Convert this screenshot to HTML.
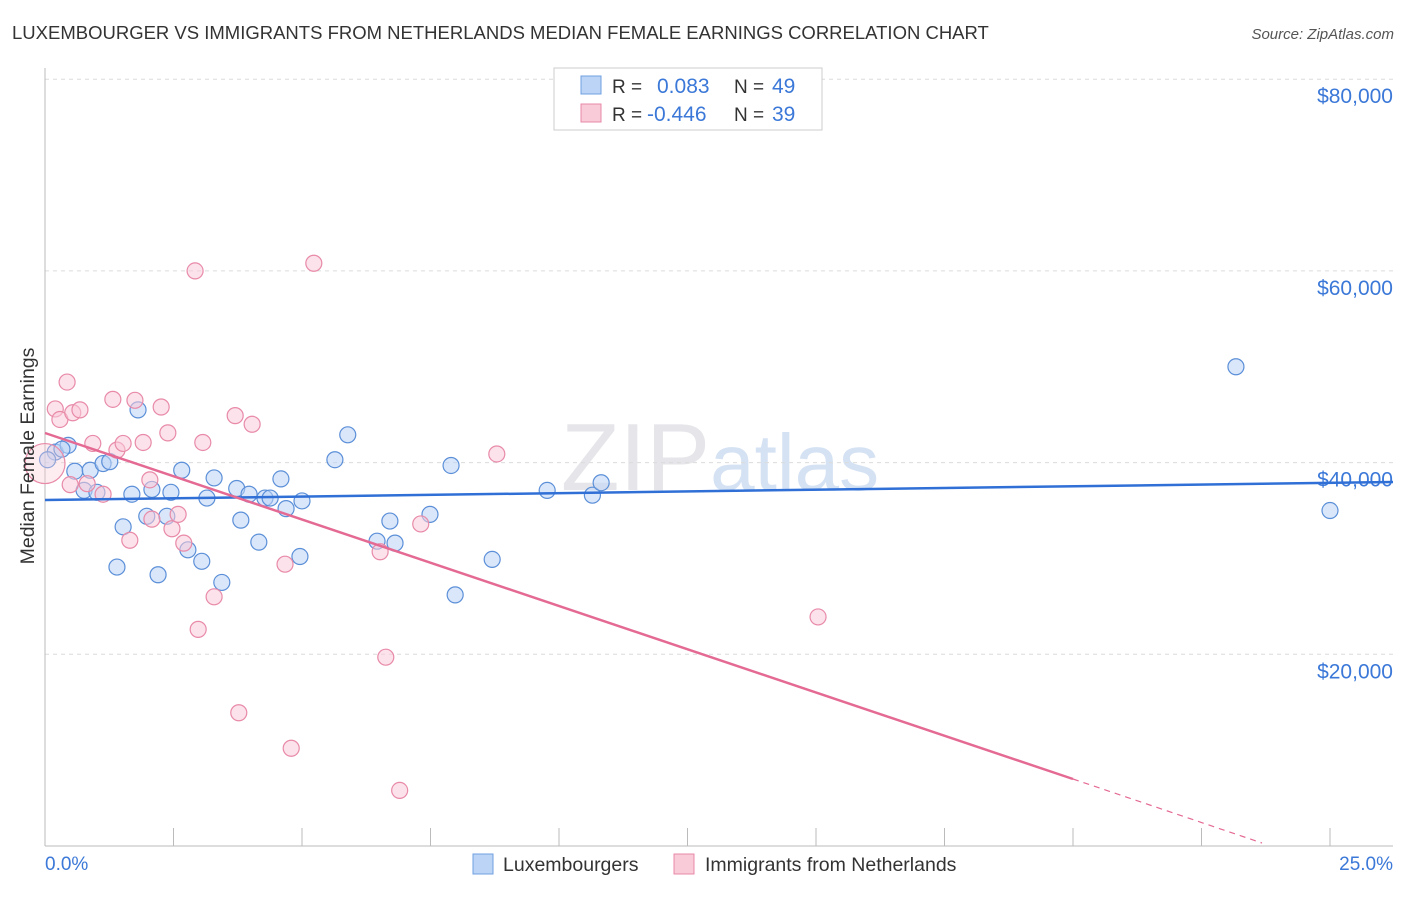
<!DOCTYPE html>
<html><head><meta charset="utf-8"><style>
body{margin:0;background:#fff;font-family:"Liberation Sans",sans-serif}
svg text{font-family:"Liberation Sans",sans-serif}
</style></head><body>
<svg id="chart" width="1406" height="892" xmlns="http://www.w3.org/2000/svg">
<text x="12" y="39" font-size="18.5" fill="#333">LUXEMBOURGER VS IMMIGRANTS FROM NETHERLANDS MEDIAN FEMALE EARNINGS CORRELATION CHART</text>
<text x="1394" y="39" font-size="15" fill="#555" text-anchor="end" font-style="italic">Source: ZipAtlas.com</text>
<text x="720" y="490" font-size="96" fill="#e6e6ea" text-anchor="middle" font-family="Liberation Serif">ZIP<tspan fill="#d5e2f3" font-family="Liberation Sans" font-size="80">atlas</tspan></text>
<g id="grid"></g>
<g id="axes"></g>
<g id="marks"></g>
<text transform="translate(34,456) rotate(-90)" font-size="19.5" fill="#333" text-anchor="middle">Median Female Earnings</text>
<text x="45" y="870" font-size="19" fill="#3b78d8">0.0%</text>
<text x="1393" y="870" font-size="19" fill="#3b78d8" text-anchor="end">25.0%</text>
<g>
<rect x="554" y="68" width="268" height="62" fill="#fff" stroke="#ccc"/>
<rect x="581" y="76" width="20" height="18" fill="#bcd4f5" stroke="#6f9fe0"/>
<rect x="581" y="104" width="20" height="18" fill="#f9cad8" stroke="#e88aa8"/>
<text x="612" y="93" font-size="19" fill="#333">R = </text>
<text x="657" y="93" font-size="21" fill="#3b78d8">0.083</text>
<text x="734" y="93" font-size="19" fill="#333">N =</text>
<text x="772" y="93" font-size="21" fill="#3b78d8">49</text>
<text x="612" y="121" font-size="19" fill="#333">R = </text>
<text x="647" y="121" font-size="21" fill="#3b78d8">-0.446</text>
<text x="734" y="121" font-size="19" fill="#333">N =</text>
<text x="772" y="121" font-size="21" fill="#3b78d8">39</text>
</g>
<g>
<rect x="473" y="854" width="20" height="20" fill="#bcd4f5" stroke="#6f9fe0"/>
<text x="503" y="871" font-size="19.5" fill="#333">Luxembourgers</text>
<rect x="674" y="854" width="20" height="20" fill="#f9cad8" stroke="#e88aa8"/>
<text x="705" y="871" font-size="19.5" fill="#333">Immigrants from Netherlands</text>
</g>
</svg>
<script>
const yTicks=[20000,40000,60000,80000];
const yTickLabels=["$20,000","$40,000","$60,000","$80,000"];
const xTicks=[0,2.5,5,7.5,10,12.5,15,17.5,20,22.5,25];
const blueX=[0.2,0.45,0.33,0.58,0.88,0.76,1.01,1.13,1.26,1.81,1.52,1.4,1.69,2.08,1.98,2.2,2.37,2.45,2.66,2.78,3.05,3.15,3.29,3.44,3.73,3.81,3.97,4.16,4.28,4.38,4.59,4.69,4.96,5.0,5.64,5.89,6.46,6.71,6.81,7.49,7.9,7.98,8.7,9.77,10.65,10.82,23.17,25.0,0.05];
const blueY=[41100,41800,41400,39100,39200,37100,36900,39900,40100,45500,33300,29100,36700,37200,34400,28300,34400,36900,39200,30900,29700,36300,38400,27500,37300,34000,36700,31700,36300,36300,38300,35200,30200,36000,40300,42900,31800,33900,31600,34600,39700,26200,29900,37100,36600,37900,50000,35000,40300];
const pinkX=[0.0,0.2,0.29,0.43,0.54,0.68,0.82,0.93,1.13,1.4,1.32,1.52,1.65,1.75,1.91,2.04,2.08,2.26,2.39,2.47,2.59,2.7,2.92,2.98,3.07,3.29,3.7,3.77,4.03,4.67,4.79,5.23,6.52,6.63,6.9,7.31,8.79,15.04,0.49];
const pinkY=[39900,45600,44500,48400,45200,45500,37800,42000,36700,41300,46600,42000,31900,46500,42100,38200,34100,45800,43100,33100,34600,31600,60000,22600,42100,26000,44900,13900,44000,29400,10200,60800,30700,19700,5800,33600,40900,23900,37700];
const X=v=>45+v*51.4, Y=v=>846-v*191.7/20000;
const ns="http://www.w3.org/2000/svg";
function mk(t,a,p){const e=document.createElementNS(ns,t);for(const k in a)e.setAttribute(k,a[k]);p.appendChild(e);return e;}
const grid=document.getElementById('grid'),axes=document.getElementById('axes'),marks=document.getElementById('marks');
yTicks.forEach((v,i)=>{
 const l=mk('line',{x1:45,x2:1393,y1:Y(v),y2:Y(v),stroke:'#dcdcdc','stroke-dasharray':'4,4'},grid);
 
 
 const t=mk('text',{x:1393,y:Y(v)+24,'font-size':21,fill:'#3b78d8','text-anchor':'end'},axes);
 t.textContent=yTickLabels[i];
 
 
});
const xa=mk('line',{x1:45,x2:1393,y1:846,y2:846,stroke:'#bbb'},axes);


const ya=mk('line',{x1:45,x2:45,y1:68,y2:846,stroke:'#bbb'},axes);


xTicks.forEach(v=>{
 const l=mk('line',{x1:X(v),x2:X(v),y1:828,y2:846,stroke:'#bbb'},axes);
 
 
});
function pts(xs,ys,fill,stroke,name){
 xs.forEach((x,i)=>{
  const big=(x===0);
  const c=mk('circle',{cx:X(x),cy:Y(ys[i]),r:big?20:8,fill:fill,'fill-opacity':big?0.35:0.55,stroke:stroke,'stroke-width':1.2},marks);
  
  
 });
}
pts(blueX,blueY,'#bcd4f5','#5b8fd8','luxembourger-point');
pts(pinkX,pinkY,'#f9cad8','#e88aa8','netherlands-point');
const bl=mk('line',{x1:45,y1:500,x2:1393,y2:482,stroke:'#2f6fd6','stroke-width':2.5},marks);


const pl=mk('line',{x1:45,y1:433,x2:1073,y2:779,stroke:'#e46a94','stroke-width':2.5},marks);


const pd=mk('line',{x1:1073,y1:779,x2:1262,y2:843,stroke:'#e46a94','stroke-width':1.2,'stroke-dasharray':'6,5'},marks);


</script>
</body></html>
